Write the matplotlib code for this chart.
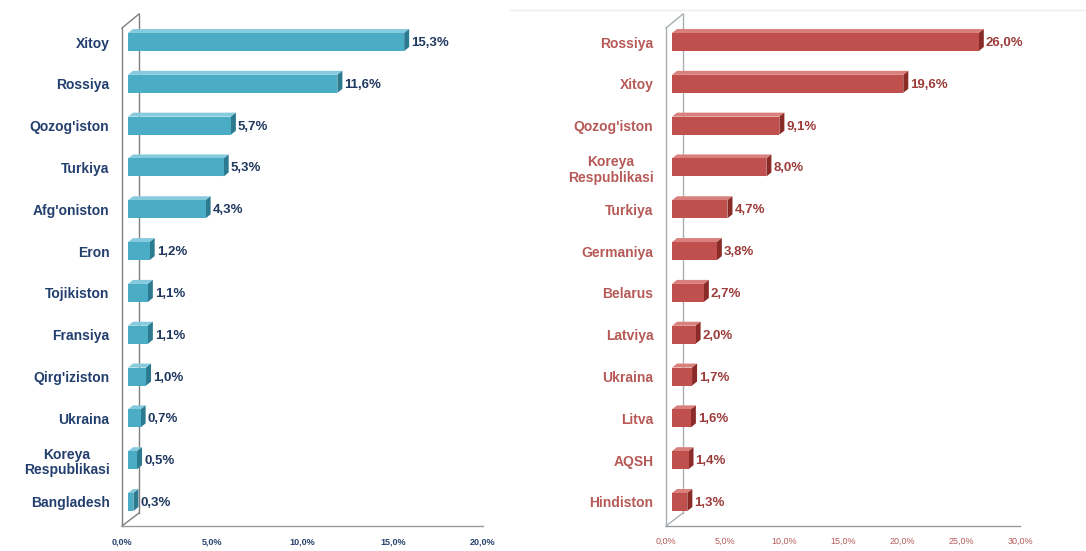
import matplotlib.pyplot as plt
from matplotlib.patches import Polygon, Rectangle
from matplotlib.lines import Line2D

# export shares by partner country, %
left_countries = ["Xitoy", "Rossiya", "Qozog'iston", "Turkiya", "Afg'oniston", "Eron",
                  "Tojikiston", "Fransiya", "Qirg'iziston", "Ukraina",
                  "Koreya\nRespublikasi", "Bangladesh"]
left_values = [15.3, 11.6, 5.7, 5.3, 4.3, 1.2, 1.1, 1.1, 1.0, 0.7, 0.5, 0.3]
left_ticks = [0, 5, 10, 15, 20]

# import shares by partner country, %
right_countries = ["Rossiya", "Xitoy", "Qozog'iston", "Koreya\nRespublikasi", "Turkiya",
                   "Germaniya", "Belarus", "Latviya", "Ukraina", "Litva", "AQSH", "Hindiston"]
right_values = [26.0, 19.6, 9.1, 8.0, 4.7, 3.8, 2.7, 2.0, 1.7, 1.6, 1.4, 1.3]
right_ticks = [0, 5, 10, 15, 20, 25, 30]

W, H = 1086, 551
fig = plt.figure(figsize=(W / 100, H / 100), dpi=100)
plt.rcParams['font.family'] = ['Liberation Sans', 'DejaVu Sans']


def fmt(v):
    return f"{v:.1f}%".replace('.', ',')


def draw_panel(x0, x1, names, vals, ticks, front, top, side, txt, valtxt, tickcol,
               tickweight, wall):
    y_bot, y_top = 526, 28
    ax = fig.add_axes([x0 / W, (H - y_bot) / H, (x1 - x0) / W, (y_bot - y_top) / H])
    n = len(names)
    ylo, yhi = n - 1 + 0.574, -0.335
    xmax = ticks[-1]
    ax.set_xlim(0, xmax)
    ax.set_ylim(ylo, yhi)
    w_px, h_px = x1 - x0, y_bot - y_top
    ux = xmax / w_px            # data units per pixel
    uy = (ylo - yhi) / h_px
    shift = 6 * ux              # bars sit a little inside the wall
    dx, dy = 5 * ux, 4 * uy     # depth of the 3d faces
    bh = 18 * uy

    for i, v in enumerate(vals):
        ya, yb = i - bh / 2, i + bh / 2     # top and bottom edge of front face
        xa, xb = shift, shift + v
        ax.add_patch(Polygon([(xa, ya), (xb, ya), (xb + dx, ya - dy), (xa + dx, ya - dy)],
                             closed=True, fc=top, ec='none', zorder=3))
        ax.add_patch(Polygon([(xb, ya), (xb + dx, ya - dy), (xb + dx, yb - dy), (xb, yb)],
                             closed=True, fc=side, ec='none', zorder=3))
        ax.add_patch(Rectangle((xa, ya), v, bh, fc=front, ec='none', zorder=4))
        ax.text(xb + dx + 2 * ux, i + 1 * uy, fmt(v), ha='left', va='center',
                fontsize=9.5, fontweight='bold', color=valtxt, zorder=5)

    for s in ['top', 'right', 'left']:
        ax.spines[s].set_visible(False)
    ax.spines['bottom'].set_color('#9a9a9a')
    ax.spines['bottom'].set_linewidth(1.0)

    # side wall drawn as a thin parallelogram
    wx, wy_top, wy_bot = 17 / w_px, 14 / h_px, 13 / h_px
    for xs, ys in [([0, 0], [0, 1]),
                   ([wx, wx], [wy_bot, 1 + wy_top]),
                   ([0, wx], [1, 1 + wy_top]),
                   ([0, wx], [0, wy_bot])]:
        ax.add_line(Line2D(xs, ys, transform=ax.transAxes, color=wall, lw=1.0,
                           clip_on=False, zorder=2))

    ax.set_yticks(range(n))
    ax.set_yticklabels(names, fontsize=10, fontweight='bold', color=txt)
    for lbl in ax.get_yticklabels():
        lbl.set_multialignment('center')
        lbl.set_linespacing(1.15)
    ax.tick_params(axis='y', length=0, pad=9)
    ax.set_xticks(ticks)
    ax.set_xticklabels([fmt(t) for t in ticks], fontsize=6.5, fontweight=tickweight,
                       color=tickcol)
    ax.tick_params(axis='x', length=0, pad=8)
    ax.set_facecolor('none')
    return ax


draw_panel(122, 483, left_countries, left_values, left_ticks,
           '#4BACC6', '#86CBDD', '#2C7A90', '#233F6E', '#1F3860', '#2A4470', 'bold',
           '#7f7f7f')
draw_panel(666, 1020, right_countries, right_values, right_ticks,
           '#C0504D', '#D9807D', '#8A2B28', '#B65A57', '#9C3C3A', '#B65A57', 'normal',
           '#a8b0b4')

# faint frame edge above the second chart
fig.add_artist(Line2D([510 / W, 1], [1 - 10 / H, 1 - 10 / H], color='#ececec', lw=1.0))

fig.savefig('out.png', dpi=100, facecolor='white')
